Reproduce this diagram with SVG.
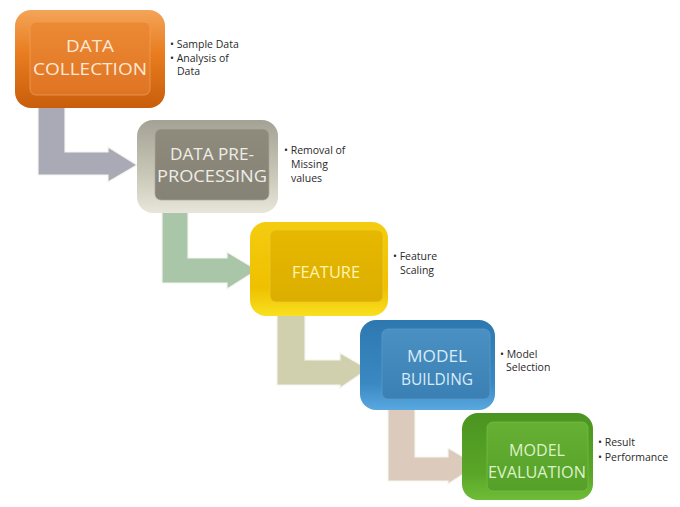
<svg xmlns="http://www.w3.org/2000/svg" width="680" height="507" viewBox="0 0 680 507">
<defs>
<style>
.lbl{font-family:"Open Sans","Noto Sans","Liberation Sans",sans-serif;font-size:17px;text-anchor:middle}
.bul{font-family:"Open Sans","Noto Sans","Liberation Sans",sans-serif;font-size:10.5px;fill:#2a2a2a}
.arr{stroke:#f4f4ee;stroke-width:1.2}
.face{stroke-width:1;stroke-opacity:0.7}
</style>
<linearGradient id="o1" x1="0" y1="0" x2="0" y2="1"><stop offset="0" stop-color="#f4a458"/><stop offset="0.45" stop-color="#e87c1e"/><stop offset="1" stop-color="#c85e0c"/></linearGradient>
<linearGradient id="f1" x1="0" y1="0" x2="0" y2="1"><stop offset="0" stop-color="#ec8a34"/><stop offset="1" stop-color="#e07424"/></linearGradient>
<linearGradient id="o2" x1="0" y1="0" x2="0" y2="1"><stop offset="0" stop-color="#a4a294"/><stop offset="0.6" stop-color="#cac8b8"/><stop offset="1" stop-color="#e8e6da"/></linearGradient>
<linearGradient id="f2" x1="0" y1="0" x2="0" y2="1"><stop offset="0" stop-color="#8e8b7c"/><stop offset="1" stop-color="#858276"/></linearGradient>
<linearGradient id="o3" x1="0" y1="0" x2="0" y2="1"><stop offset="0" stop-color="#f4cc10"/><stop offset="0.7" stop-color="#efc000"/><stop offset="1" stop-color="#f8e020"/></linearGradient>
<linearGradient id="f3" x1="0" y1="0" x2="0" y2="1"><stop offset="0" stop-color="#e6b800"/><stop offset="1" stop-color="#dcae00"/></linearGradient>
<linearGradient id="o4" x1="0" y1="0" x2="0" y2="1"><stop offset="0" stop-color="#2e78b0"/><stop offset="0.7" stop-color="#3a88c2"/><stop offset="1" stop-color="#5aa8e0"/></linearGradient>
<linearGradient id="f4" x1="0" y1="0" x2="0" y2="1"><stop offset="0" stop-color="#4a90c2"/><stop offset="1" stop-color="#3a80b4"/></linearGradient>
<linearGradient id="o5" x1="0" y1="0" x2="0" y2="1"><stop offset="0" stop-color="#4a9420"/><stop offset="0.7" stop-color="#5aa628"/><stop offset="1" stop-color="#6fbc38"/></linearGradient>
<linearGradient id="f5" x1="0" y1="0" x2="0" y2="1"><stop offset="0" stop-color="#66b034"/><stop offset="1" stop-color="#55a028"/></linearGradient>
</defs>
<rect width="680" height="507" fill="#ffffff"/>
<g id="connectors">
<path class="arr" fill="#a9aab6" d="M38,103 L65,103 L65,152 L108,152 L108,147 L137,165 L108,182 L108,175 L38,175 Z"/>
<path class="arr" fill="#a9c6a8" d="M162,210 L188,210 L188,258 L227,258 L227,252 L257,270 L227,289 L227,283 L162,283 Z"/>
<path class="arr" fill="#d0d0ae" d="M277,313 L305,313 L305,360 L340,360 L340,353 L368,369 L340,388 L340,385 L277,385 Z"/>
<path class="arr" fill="#dccabc" d="M388,408 L415,408 L415,457 L448,457 L448,448 L477,465 L448,484 L448,481 L388,481 Z"/>
</g>
<g id="node-1">
<rect x="15" y="10" width="150" height="98" rx="16" fill="url(#o1)"/>
<rect class="face" x="30" y="22" width="120" height="73" rx="6" fill="url(#f1)" stroke="#f2a060"/>
<text class="lbl" x="90" y="52" fill="#fde8d6" textLength="48" lengthAdjust="spacingAndGlyphs">DATA</text>
<text class="lbl" x="90" y="75" fill="#fde8d6" textLength="114" lengthAdjust="spacingAndGlyphs">COLLECTION</text>
<text class="bul" x="170" y="48">• Sample Data</text>
<text class="bul" x="170" y="62">• Analysis of</text>
<text class="bul" x="177" y="75">Data</text>
</g>
<g id="node-2">
<rect x="137" y="120" width="141" height="93" rx="16" fill="url(#o2)"/>
<rect class="face" x="155" y="129" width="114" height="71" rx="6" fill="url(#f2)" stroke="#a8a698"/>
<text class="lbl" x="212" y="160" fill="#eeede6" textLength="84" lengthAdjust="spacingAndGlyphs">DATA PRE-</text>
<text class="lbl" x="212" y="182" fill="#eeede6" textLength="110" lengthAdjust="spacingAndGlyphs">PROCESSING</text>
<text class="bul" x="284" y="154">• Removal of</text>
<text class="bul" x="291" y="168">Missing</text>
<text class="bul" x="291" y="182">values</text>
</g>
<g id="node-3">
<rect x="250" y="222" width="138" height="94" rx="16" fill="url(#o3)"/>
<rect class="face" x="270" y="230" width="113" height="72" rx="6" fill="url(#f3)" stroke="#f0cc30"/>
<text class="lbl" x="326" y="278" fill="#fff4b0" textLength="68" lengthAdjust="spacingAndGlyphs">FEATURE</text>
<text class="bul" x="393" y="260">• Feature</text>
<text class="bul" x="400" y="274">Scaling</text>
</g>
<g id="node-4">
<rect x="360" y="320" width="135" height="90" rx="16" fill="url(#o4)"/>
<rect class="face" x="382" y="329" width="108" height="70" rx="6" fill="url(#f4)" stroke="#5c9ccc"/>
<text class="lbl" x="437" y="362" fill="#d8ecf8" textLength="60" lengthAdjust="spacingAndGlyphs">MODEL</text>
<text class="lbl" x="437" y="385" fill="#d8ecf8" textLength="72" lengthAdjust="spacingAndGlyphs">BUILDING</text>
<text class="bul" x="500" y="358">• Model</text>
<text class="bul" x="506" y="371">Selection</text>
</g>
<g id="node-5">
<rect x="462" y="413" width="131" height="87" rx="16" fill="url(#o5)"/>
<rect class="face" x="487" y="422" width="101" height="69" rx="6" fill="url(#f5)" stroke="#78c046"/>
<text class="lbl" x="537" y="456" fill="#dcf2c8" textLength="56" lengthAdjust="spacingAndGlyphs">MODEL</text>
<text class="lbl" x="537" y="478" fill="#dcf2c8" textLength="98" lengthAdjust="spacingAndGlyphs">EVALUATION</text>
<text class="bul" x="598" y="446">• Result</text>
<text class="bul" x="598" y="461">• Performance</text>
</g>
</svg>
